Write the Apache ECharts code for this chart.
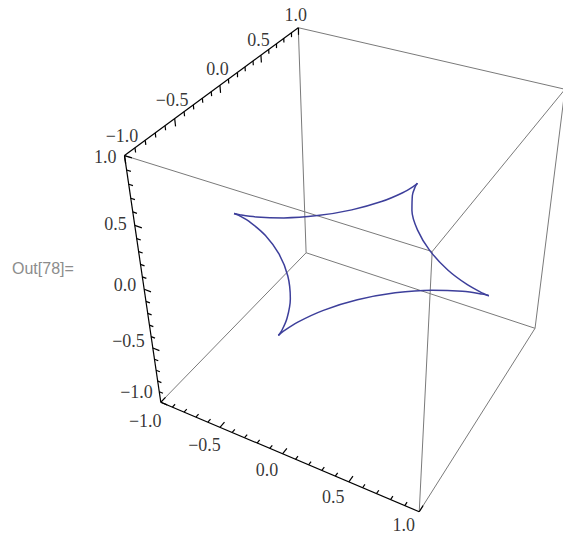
<!DOCTYPE html>
<html><head><meta charset="utf-8">
<script src="https://cdn.jsdelivr.net/npm/echarts@6/dist/echarts.min.js"></script>
<style>html,body{margin:0;padding:0;background:#fff}#c{width:563px;height:535px}</style>
</head><body><div id="c"></div>
<script>
// ---- data ----
const axisRange = [-1, 1];
const majorTicks = [-1, -0.5, 0, 0.5, 1];
const minorTicks = [-0.9, -0.8, -0.7, -0.6, -0.4, -0.3, -0.2, -0.1, 0.1, 0.2, 0.3, 0.4, 0.6, 0.7, 0.8, 0.9];
const tickLabels = ['\u22121.0', '\u22120.5', '0.0', '0.5', '1.0'];
const outLabel = 'Out[78]=';
const curveZ = 0;
// curve points [x, y] (four arcs between cusps)
const arc1 = [[0.97,0],[0.926,0.005],[0.805,0.039],[0.63,0.121],[0.436,0.258],[0.258,0.436],[0.121,0.63],[0.039,0.805],[0.005,0.926],[0,0.97]];
const arc2 = [[0,0.97],[-0.005,0.926],[-0.039,0.805],[-0.121,0.63],[-0.258,0.436],[-0.436,0.258],[-0.63,0.121],[-0.805,0.039],[-0.926,0.005],[-0.97,0]];
const arc3 = [[-0.97,0],[-0.926,-0.005],[-0.805,-0.039],[-0.63,-0.121],[-0.436,-0.258],[-0.258,-0.436],[-0.121,-0.63],[-0.039,-0.805],[-0.005,-0.926],[0,-0.97]];
const arc4 = [[0,-0.97],[0.005,-0.926],[0.039,-0.805],[0.121,-0.63],[0.258,-0.436],[0.436,-0.258],[0.63,-0.121],[0.805,-0.039],[0.926,-0.005],[0.97,0]];

// ---- perspective camera (3D -> screen scale) ----
const cam = {
  u: [354.4, 110.75, 105.1, -29.0],
  v: [252.3, 27.9, -53.6, -141.1],
  w: [1, -0.057, 0.096, -0.081]
};
function proj(x, y, z) {
  const d = cam.w[0] + cam.w[1]*x + cam.w[2]*y + cam.w[3]*z;
  return [(cam.u[0] + cam.u[1]*x + cam.u[2]*y + cam.u[3]*z) / d,
          (cam.v[0] + cam.v[1]*x + cam.v[2]*y + cam.v[3]*z) / d];
}

const lo = axisRange[0], hi = axisRange[1];
const seg = (a, b) => ({coords: [proj(a[0],a[1],a[2]), proj(b[0],b[1],b[2])]});

const grayEdges = [];
const blackEdges = [];
for (const a of [lo, hi]) for (const b of [lo, hi]) {
  (a === lo && b === lo ? blackEdges : grayEdges).push(seg([lo,a,b],[hi,a,b]));
  (a === lo && b === hi ? blackEdges : grayEdges).push(seg([a,lo,b],[a,hi,b]));
  (a === lo && b === lo ? blackEdges : grayEdges).push(seg([a,b,lo],[a,b,hi]));
}
const tickLen = {major: 0.055, minor: 0.032};
const tickSegs = [];
function addTicks(vals, len) {
  for (const t of vals) {
    tickSegs.push(seg([t,lo,lo],[t,lo+len,lo]));   // x axis ticks toward +y
    tickSegs.push(seg([lo,t,hi],[lo,t,hi-len]));   // y axis ticks toward -z
    tickSegs.push(seg([lo,lo,t],[lo+len,lo,t]));   // z axis ticks toward +x
  }
}
addTicks(majorTicks, tickLen.major);
addTicks(minorTicks, tickLen.minor);

const labelFont = {fontFamily: 'Liberation Serif', fontSize: 18, color: '#000'};
const xLab = majorTicks.map((t,i) => ({value: proj(t,lo,lo), name: tickLabels[i],
  label: {offset: [-15.5, 16 - 2.5*t]}}));
const yLab = majorTicks.map((t,i) => ({value: proj(lo,t,hi), name: tickLabels[i],
  label: {offset: [-2.5, -16.5 + 3.5*t]}}));
const zLab = majorTicks.map((t,i) => ({value: proj(lo,lo,t), name: tickLabels[i],
  label: {offset: [-8, -4.5 + 5.5*t]}}));

const curveStyle = {color: '#3d3f9b', width: 1.5};
const arcSeries = [arc1, arc2, arc3, arc4].map(arc => ({
  type: 'line', symbol: 'none', smooth: 0.35, silent: true,
  data: arc.map(p => proj(p[0], p[1], curveZ)),
  lineStyle: curveStyle, z: 5
}));

const labelSeries = (data, align) => ({
  type: 'scatter', symbolSize: 0, silent: true, data: data,
  label: Object.assign({show: true, position: 'inside', align: align, verticalAlign: 'middle',
    formatter: p => p.name}, labelFont),
  z: 6
});

const chart = echarts.init(document.getElementById('c'), null, {renderer: 'svg', width: 563, height: 535});
chart.setOption({
  animation: false,
  backgroundColor: '#fff',
  grid: {left: 0, right: 0, top: 0, bottom: 0},
  xAxis: {type: 'value', min: 0, max: 563, show: false},
  yAxis: {type: 'value', min: 0, max: 535, inverse: true, show: false},
  graphic: [{type: 'text', left: 12, top: 260,
    style: {text: outLabel, fontFamily: 'Liberation Sans', fontSize: 16, fill: '#8c8c8c'}}],
  series: [
    {type: 'lines', coordinateSystem: 'cartesian2d', silent: true, data: grayEdges,
     lineStyle: {color: '#7a7a7a', width: 1, opacity: 1}, z: 2},
    {type: 'lines', coordinateSystem: 'cartesian2d', silent: true, data: blackEdges.concat(tickSegs),
     lineStyle: {color: '#000', width: 1.2, opacity: 1}, z: 3},
    ...arcSeries,
    labelSeries(xLab, 'center'),
    labelSeries(yLab, 'center'),
    labelSeries(zLab, 'right')
  ]
});
</script></body></html>
